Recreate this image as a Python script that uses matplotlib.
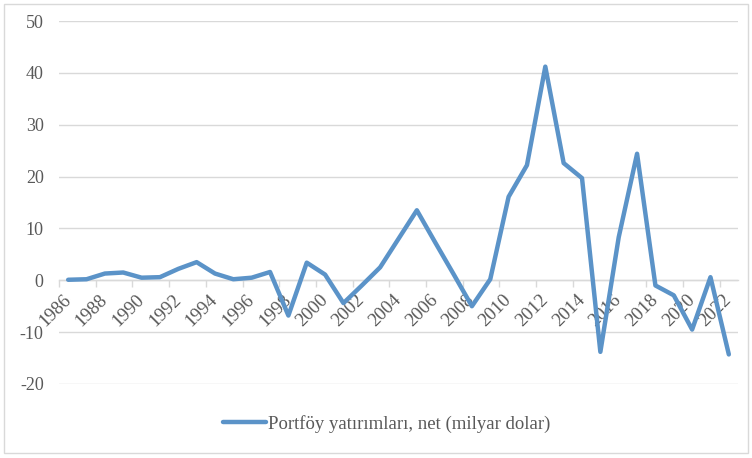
import matplotlib
matplotlib.use("Agg")
import matplotlib.pyplot as plt
from matplotlib.patches import Rectangle

years = list(range(1986, 2023))
values = [0.1, 0.2, 1.3, 1.5, 0.5, 0.6, 2.2, 3.5, 1.3, 0.2,
          0.5, 1.6, -6.8, 3.4, 1.1, -4.4, -1.0, 2.5, 8.0, 13.5,
          7.3, 1.2, -5.0, 0.2, 16.1, 22.2, 41.2, 22.6, 19.7, -13.8,
          8.3, 24.4, -1.0, -2.9, -9.5, 0.6, -14.3]
yticks = [-20, -10, 0, 10, 20, 30, 40, 50]
series_label = "Portföy yatırımları, net (milyar dolar)"

plt.rcParams['font.family'] = ['Liberation Serif', 'DejaVu Serif']
plt.rcParams['axes.unicode_minus'] = False
txt = '#595959'
grid = '#D9D9D9'

fig = plt.figure(figsize=(7.52, 4.58), dpi=100)
ax = fig.add_axes([59/752, 1-384/458, (738-59)/752, (384-21)/458])

x = list(range(len(years)))
ax.plot(x, values, color='#5B93C8', lw=3.2, solid_joinstyle='round',
        solid_capstyle='round', label=series_label, zorder=3)

ax.set_xlim(-0.5, len(years)-0.5)
ax.set_ylim(-20, 50)
ax.set_yticks(yticks)
ax.yaxis.grid(True, color=grid, lw=1)
ax.set_axisbelow(True)
ax.tick_params(axis='y', length=0, labelsize=13, labelcolor=txt, pad=11)

for s in ['left', 'right', 'top']:
    ax.spines[s].set_visible(False)
ax.spines['bottom'].set_position(('data', 0))
ax.spines['bottom'].set_color(grid)
ax.spines['bottom'].set_linewidth(1)

ax.set_xticks(x[::2])
ax.set_xticklabels([str(y) for y in years[::2]], rotation=45, ha='right',
                   va='center', rotation_mode='anchor')
ax.set_xticks([i - 0.5 for i in x[::2]], minor=True)
ax.tick_params(axis='x', which='major', length=0, labelsize=13.5, labelcolor=txt, pad=12)
ax.tick_params(axis='x', which='minor', length=5, color=grid, width=1, direction='out')

leg = ax.legend(loc='center', bbox_to_anchor=(0.482, -0.11), frameon=False,
                fontsize=13.5, handlelength=2.3, handletextpad=0.1, labelcolor=txt)

fig.patches.append(Rectangle((4/752, 5/458), 744/752, 449/458, transform=fig.transFigure,
                             fill=False, edgecolor=grid, lw=1))

fig.savefig('out.png', dpi=100)
